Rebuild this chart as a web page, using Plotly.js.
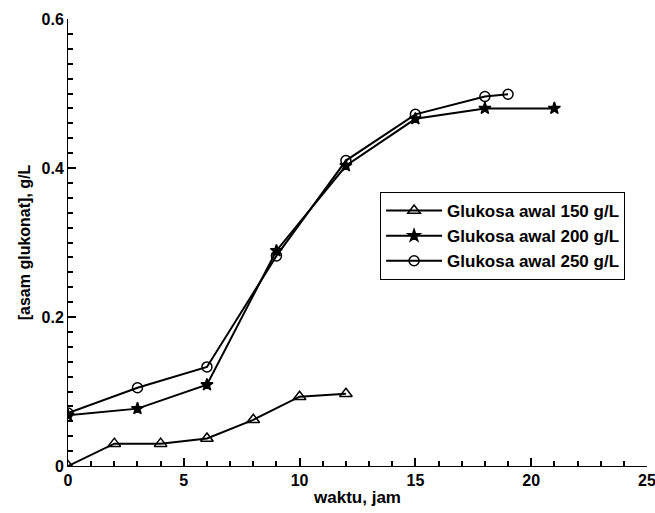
<!DOCTYPE html>
<html><head><meta charset="utf-8">
<script src="https://cdn.plot.ly/plotly-3.0.1.min.js"></script>
<style>body{margin:0;background:#fff}#c{width:655px;height:513px}</style>
</head><body><div id="c"></div>
<script>
const names = ["Glukosa awal 150 g/L", "Glukosa awal 200 g/L", "Glukosa awal 250 g/L"];
const x150 = [0, 2, 4, 6, 8, 10, 12];
const y150 = [0, 0.030, 0.030, 0.037, 0.062, 0.093, 0.097];
const x200 = [0, 3, 6, 9, 12, 15, 18, 21];
const y200 = [0.068, 0.077, 0.109, 0.289, 0.403, 0.466, 0.480, 0.480];
const x250 = [0, 3, 6, 9, 12, 15, 18, 19];
const y250 = [0.071, 0.105, 0.133, 0.282, 0.410, 0.472, 0.496, 0.499];
const symbols = ["triangle-up-open", "star", "circle-open"];
const sizes = [11, 9, 10];
const xs = [x150, x200, x250], ys = [y150, y200, y250];

const fam = "Liberation Sans, Arial, sans-serif";
const tickF = {family: fam, size: 16, color: "#000", weight: "bold"};
const titleF = {family: fam, size: 17, color: "#000", weight: "bold"};
const ytitleF = {family: fam, size: 16, color: "#000", weight: "bold"};
const traces = names.map((n, i) => ({
  x: xs[i], y: ys[i], name: n, mode: "lines+markers", type: "scatter",
  line: {color: "#000", width: 2},
  marker: {symbol: symbols[i], size: sizes[i], color: "#000", line: {color: "#000", width: 1.5}}
}));

const layout = {
  width: 655, height: 513,
  margin: {l: 68, r: 8, t: 19, b: 47},
  paper_bgcolor: "#fff", plot_bgcolor: "#fff",
  font: tickF,
  showlegend: true,
  legend: {x: 0.539, y: 0.613, xanchor: "left", yanchor: "top", bordercolor: "#000", borderwidth: 1,
           bgcolor: "#fff", font: titleF, itemwidth: 56},
  xaxis: {range: [0, 25], dtick: 5, ticks: "inside", ticklen: 8, tickwidth: 2, tickcolor: "#000",
          showline: true, linecolor: "#000", zeroline: true, zerolinecolor: "#000", zerolinewidth: 2,
          gridcolor: "rgba(0,0,0,0)", ticklabeloverflow: "allow",
          minor: {dtick: 1, ticks: "inside", ticklen: 5, tickcolor: "#000", tickwidth: 2},
          tickfont: tickF, title: {text: "waktu, jam", font: titleF, standoff: 2}},
  yaxis: {range: [0, 0.6], dtick: 0.2, ticks: "inside", ticklen: 8, tickwidth: 2, tickcolor: "#000",
          showline: true, linecolor: "#000", zeroline: true, zerolinecolor: "#000", zerolinewidth: 2,
          gridcolor: "rgba(0,0,0,0)", ticklabeloverflow: "allow",
          minor: {dtick: 0.02, ticks: "inside", ticklen: 5, tickcolor: "#000", tickwidth: 2},
          tickfont: tickF, title: {text: "[asam glukonat], g/L", font: ytitleF, standoff: 6}}
};
Plotly.newPlot("c", traces, layout, {displayModeBar: false});
</script></body></html>
